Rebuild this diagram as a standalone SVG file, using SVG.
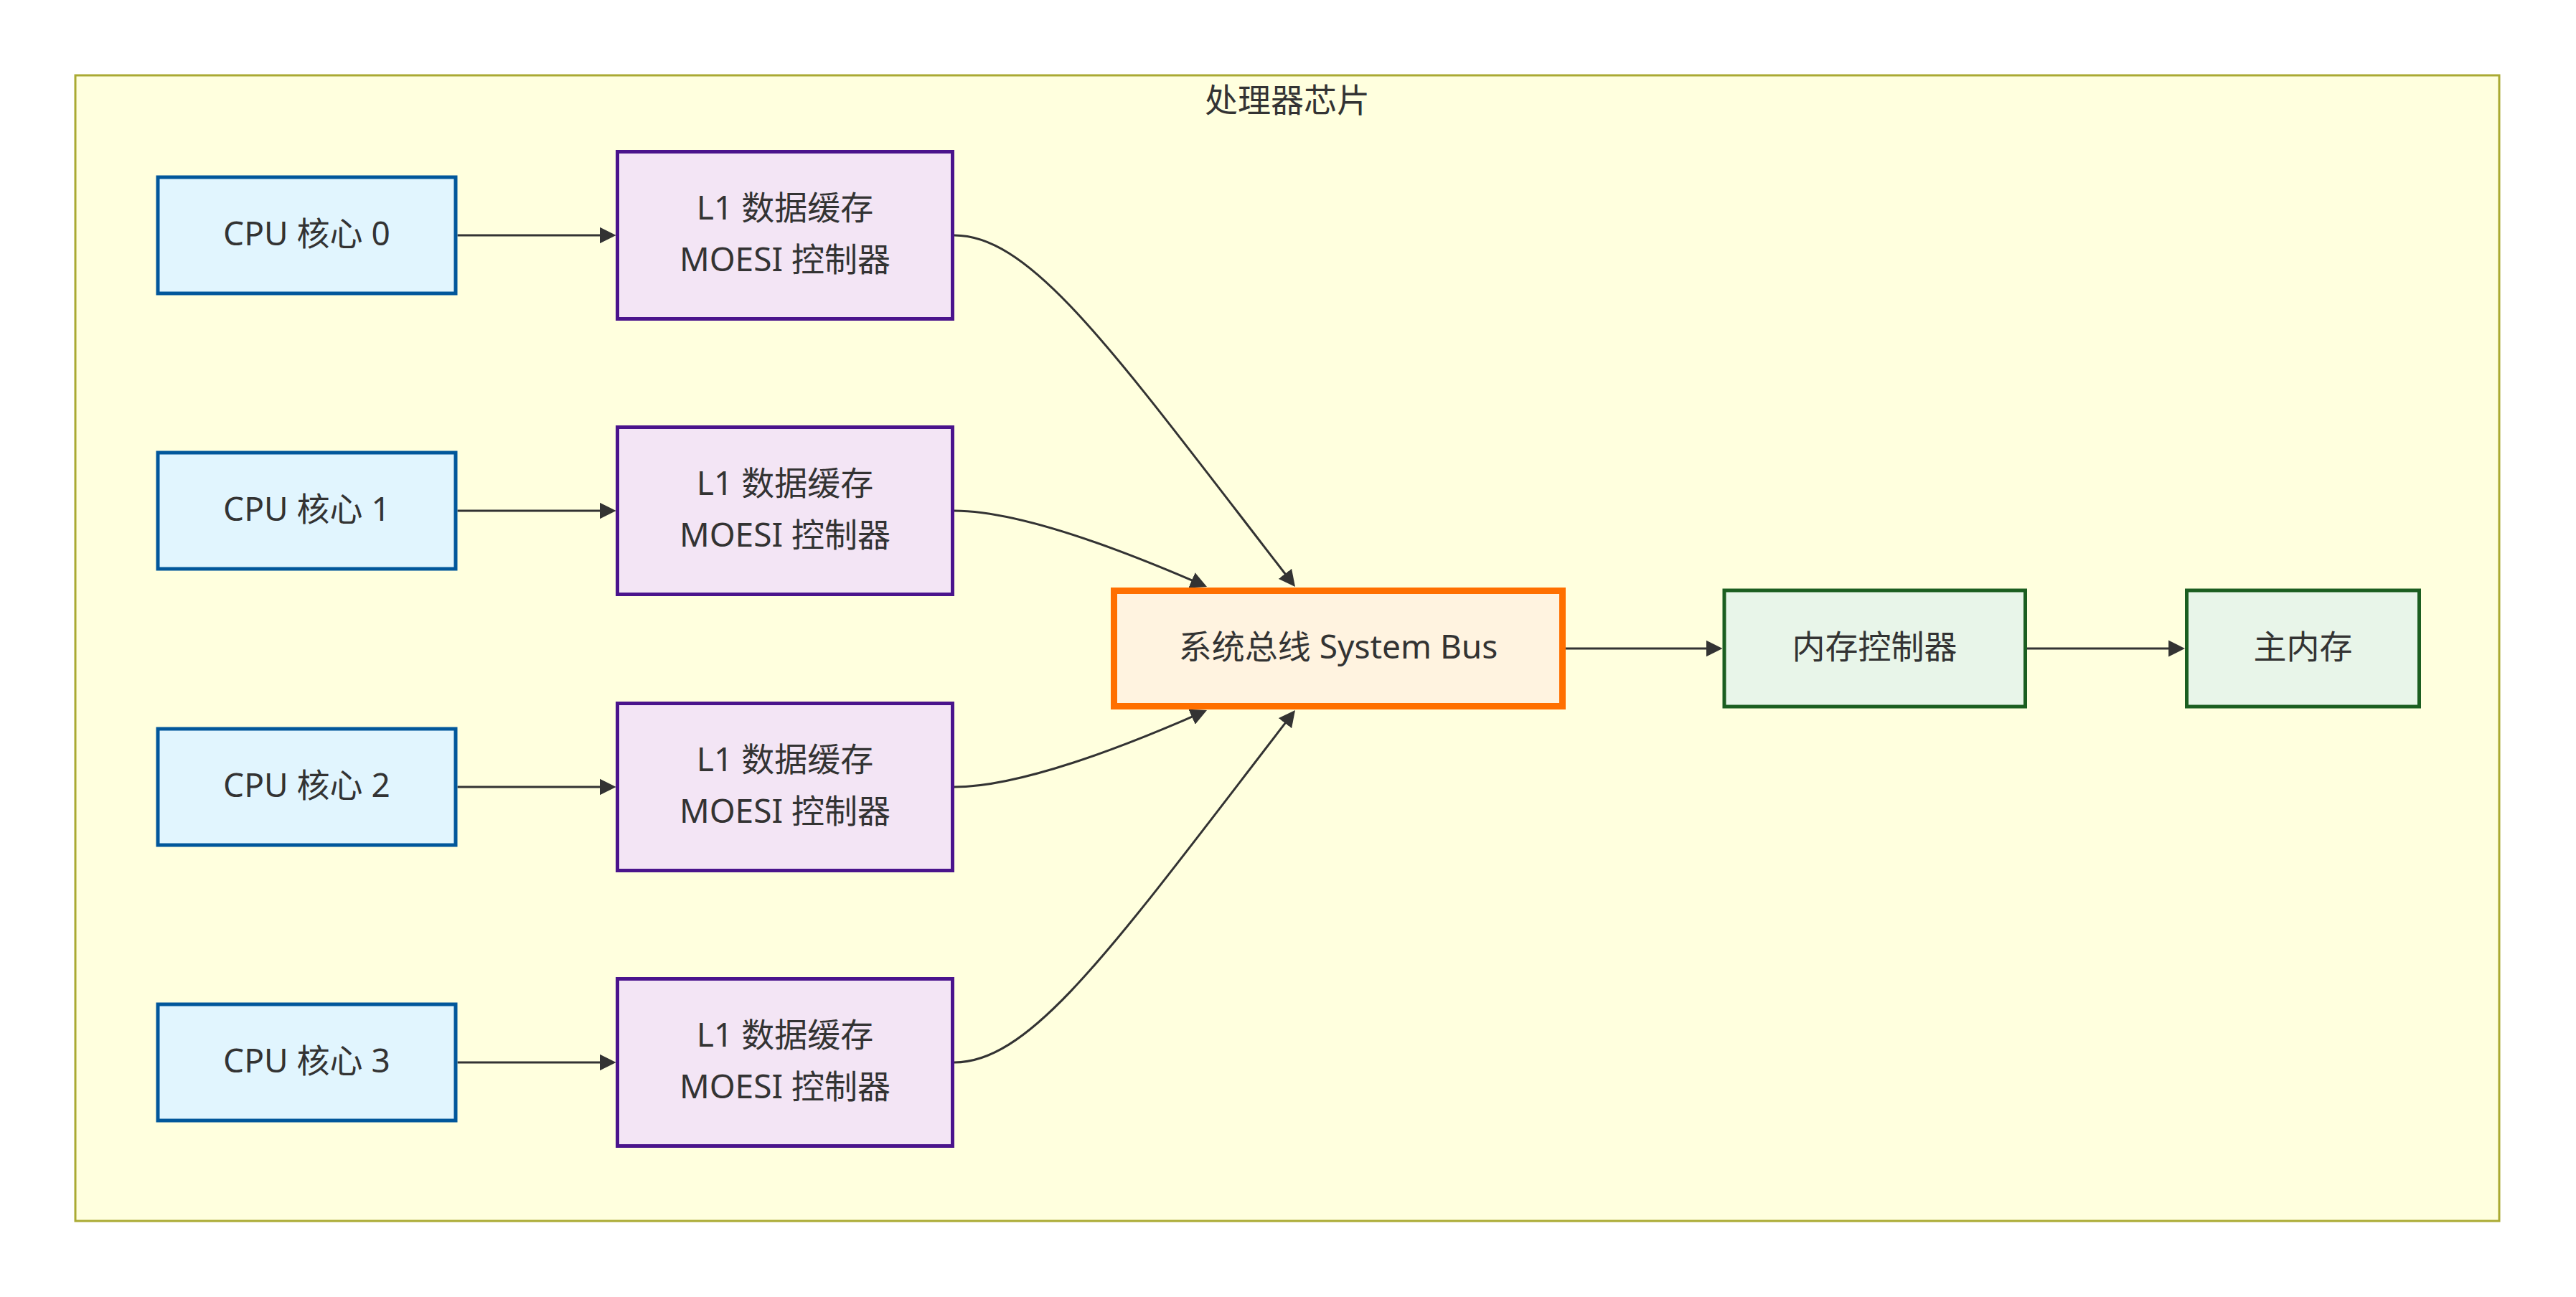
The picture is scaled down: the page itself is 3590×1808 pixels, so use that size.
<svg xmlns="http://www.w3.org/2000/svg" width="3590" height="1808" viewBox="0 0 3590 1808">
<style>
text{font-family:"Noto Sans","Noto Sans CJK SC",sans-serif;font-size:46px;fill:#333333;text-anchor:middle}
.cpu{fill:#e1f5fe;stroke:#01579b;stroke-width:5}
.l1{fill:#f3e5f5;stroke:#4a148c;stroke-width:5}
.bus{fill:#fff3e0;stroke:#ff6f00;stroke-width:9}
.mem{fill:#e8f5e9;stroke:#1b5e20;stroke-width:5}
.edge{fill:none;stroke:#333333;stroke-width:3;marker-end:url(#arrow)}
</style>
<defs>
<marker id="arrow" viewBox="0 0 10 10" refX="8" refY="5" markerUnits="userSpaceOnUse" markerWidth="23" markerHeight="24" orient="auto">
<path d="M0,0 L10,5 L0,10 z" fill="#333333"/>
</marker>
</defs>
<rect width="3590" height="1808" fill="#ffffff"/>
<g id="cluster">
<rect x="105" y="105" width="3378" height="1597" fill="#ffffde" stroke="#aaaa33" stroke-width="3"/>
<text x="1794" y="156">处理器芯片</text>
</g>
<g id="edges">
<path class="edge" d="M637.5,328 L854,328"/>
<path class="edge" d="M637.5,712 L854,712"/>
<path class="edge" d="M637.5,1097 L854,1097"/>
<path class="edge" d="M637.5,1481 L854,1481"/>
<path class="edge" d="M1330,328 C1440,328 1555,495 1802.2,814.4"/>
<path class="edge" d="M1330,712 C1420,712 1565,767 1677.8,816.2"/>
<path class="edge" d="M1330,1097 C1420,1097 1565,1042 1677.8,991.8"/>
<path class="edge" d="M1330,1481 C1440,1481 1555,1314 1802.2,993.6"/>
<path class="edge" d="M2182,904 L2396,904"/>
<path class="edge" d="M2825,904 L3040.5,904"/>
</g>
<g id="cpu0"><rect class="cpu" x="220" y="247" width="415" height="162"/><text x="427.5" y="342">CPU 核心 0</text></g>
<g id="cpu1"><rect class="cpu" x="220" y="631" width="415" height="162"/><text x="427.5" y="726">CPU 核心 1</text></g>
<g id="cpu2"><rect class="cpu" x="220" y="1016" width="415" height="162"/><text x="427.5" y="1111">CPU 核心 2</text></g>
<g id="cpu3"><rect class="cpu" x="220" y="1400" width="415" height="162"/><text x="427.5" y="1495">CPU 核心 3</text></g>
<g id="l1_0"><rect class="l1" x="860.5" y="211.5" width="467" height="233"/><text x="1094" y="306">L1 数据缓存</text><text x="1094" y="378">MOESI 控制器</text></g>
<g id="l1_1"><rect class="l1" x="860.5" y="595.5" width="467" height="233"/><text x="1094" y="690">L1 数据缓存</text><text x="1094" y="762">MOESI 控制器</text></g>
<g id="l1_2"><rect class="l1" x="860.5" y="980.5" width="467" height="233"/><text x="1094" y="1075">L1 数据缓存</text><text x="1094" y="1147">MOESI 控制器</text></g>
<g id="l1_3"><rect class="l1" x="860.5" y="1364.5" width="467" height="233"/><text x="1094" y="1459">L1 数据缓存</text><text x="1094" y="1531">MOESI 控制器</text></g>
<g id="bus"><rect class="bus" x="1552.5" y="823.5" width="625" height="161"/><text x="1865" y="918">系统总线 System Bus</text></g>
<g id="memctrl"><rect class="mem" x="2403" y="823" width="419.5" height="162"/><text x="2612.5" y="918">内存控制器</text></g>
<g id="mainmem"><rect class="mem" x="3047.5" y="823" width="324" height="162"/><text x="3209.5" y="918">主内存</text></g>
</svg>
